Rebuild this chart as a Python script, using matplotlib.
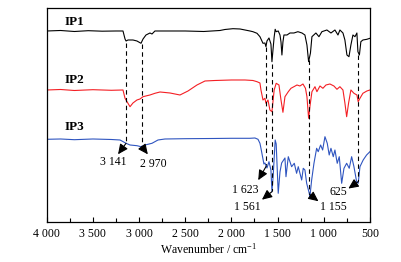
import matplotlib
matplotlib.use("Agg")
import matplotlib.pyplot as plt
import numpy as np

plt.rcParams['font.family'] = ['Liberation Serif', 'DejaVu Serif']
plt.rcParams['mathtext.fontset'] = 'custom'
plt.rcParams['mathtext.rm'] = 'Liberation Serif'
plt.rcParams['mathtext.it'] = 'Liberation Serif:italic'

# ---- data (wavenumber cm-1, transmittance a.u., offset stacked) ----
ip1_wn = [4000, 3850, 3700, 3550, 3400, 3250, 3174, 3152, 3141, 3120, 3066, 3023, 2979, 2957, 2925,
          2882, 2860, 2828, 2700, 2500, 2300, 2124, 2070, 1983, 1907, 1853, 1799, 1767, 1723, 1691,
          1658, 1637, 1626, 1615, 1593, 1572, 1561, 1547, 1537, 1526, 1515, 1493, 1474, 1463, 1453,
          1442, 1431, 1398, 1366, 1323, 1280, 1236, 1204, 1182, 1164, 1144, 1128, 1085, 1052, 1020,
          966, 922, 879, 846, 825, 792, 771, 749, 727, 706, 684, 662, 641, 630, 614, 598, 576, 533, 500]
ip1_t = [191, 191.5, 190.5, 191.3, 190.8, 191, 191, 183, 181, 182, 182, 181, 178.7, 183, 187,
         189, 188, 191, 191, 191, 190.5, 191.5, 192.5, 193.3, 193, 192, 191, 190.3, 188.7, 185.3,
         178.7, 179, 175.3, 181, 184, 178, 160.3, 175, 185, 192.7, 190.3, 191, 187, 180, 167,
         180, 187, 187, 189, 189, 190.3, 189, 187, 177, 160.3, 169, 185.3, 189, 185.3, 190.3,
         192, 189, 192, 187, 192, 189, 182, 167, 165.3, 177, 187, 185.3, 189, 170.3, 167, 180.3, 182, 182.7, 183.7]

ip2_wn = [4000, 3850, 3700, 3500, 3300, 3174, 3152, 3098, 3066, 3023, 2990, 2957, 2914, 2882, 2828,
          2773, 2665, 2557, 2470, 2373, 2286, 2178, 2000, 1853, 1767, 1723, 1691, 1680, 1658, 1637,
          1626, 1604, 1583, 1561, 1537, 1515, 1485, 1463, 1442, 1420, 1384, 1355, 1323, 1290, 1258,
          1225, 1198, 1182, 1164, 1150, 1128, 1095, 1074, 1041, 1009, 976, 933, 890, 857, 825,
          792, 771, 752, 731, 706, 673, 641, 627, 608, 576, 533, 500]
ip2_t = [132, 132.5, 131.5, 132.3, 131.7, 132, 123.7, 115.3, 119, 122, 123, 125.3, 126.3, 127, 128.7,
         130, 129, 127, 131, 137, 141, 141.5, 142, 142, 141.5, 140.3, 139, 132, 122, 123.7,
         118.7, 122, 112, 110.3, 132, 138.7, 137, 122, 109.7, 125.3, 130.3, 133.7, 135.3, 137, 136,
         138, 133.7, 125.3, 103.7, 115.3, 130.3, 135.3, 130.3, 136, 133.7, 137, 138, 136, 132.7, 135.3,
         132, 119, 105.3, 119, 132, 128.7, 127, 120.3, 123.7, 128.7, 131, 132]

ip3_wn = [4000, 3850, 3700, 3500, 3300, 3206, 3141, 3098, 3023, 2979, 2935, 2860, 2795, 2719, 2500,
          2200, 2000, 1800, 1745, 1712, 1691, 1680, 1648, 1637, 1615, 1593, 1572, 1561, 1547, 1526,
          1515, 1493, 1474, 1456, 1420, 1409, 1384, 1348, 1319, 1294, 1276, 1239, 1222, 1204, 1185,
          1157, 1150, 1131, 1106, 1077, 1060, 1034, 1012, 987, 962, 941, 922, 897, 879, 854,
          832, 806, 781, 752, 724, 698, 673, 644, 627, 608, 573, 536, 500]
ip3_t = [82.7, 83, 82.3, 83, 82.5, 82, 78.7, 77, 76.3, 75.3, 77, 78.7, 82, 83, 83.3,
         83.5, 83.7, 83.7, 84, 82.7, 78.7, 73.7, 58, 59, 54, 60.3, 52, 30.3, 47, 82,
         78, 28.7, 50, 59, 64, 45.3, 65.3, 55.3, 58.7, 48.7, 55.3, 42, 53.7, 52, 38.7,
         28.7, 25.3, 42, 58.7, 73.7, 70.3, 77, 72, 85.3, 78.7, 67, 73.7, 65.3, 72, 58.7,
         65.3, 38.7, 53.7, 58.7, 53.7, 65.3, 55.3, 40.3, 38.7, 55.3, 62, 67, 70.3]

series_names = ['IP1', 'IP2', 'IP3']
series_colors = ['#000000', '#f41f24', '#2f55c0']
peaks = [3141, 2970, 1623, 1561, 1155, 625]
peak_labels = ['3 141', '2 970', '1 623', '1 561', '1 155', '625']
xticks = [4000, 3500, 3000, 2500, 2000, 1500, 1000, 500]
xtick_labels = ['4 000', '3 500', '3 000', '2 500', '2 000', '1 500', '1 000', '500']

# ---- figure ----
fig = plt.figure(figsize=(4.01, 2.62), dpi=100)
ax = fig.add_axes([0.1165, 0.1527, 0.806, 0.8168])

wns = [ip1_wn, ip2_wn, ip3_wn]
ts = [ip1_t, ip2_t, ip3_t]
for wn, t, c in zip(wns, ts, series_colors):
    ax.plot(wn, t, color=c, lw=0.8)

ax.set_xlim(4000, 500)
ax.set_ylim(0, 214)
ax.set_yticks([])
ax.set_xticks(xticks)
ax.set_xticklabels(xtick_labels, fontsize=8.5)
ax.set_xticks(np.arange(3750, 500, -500), minor=True)
ax.tick_params(axis='x', which='major', direction='in', length=3.5, width=0.8, pad=4)
ax.tick_params(axis='x', which='minor', direction='in', length=3, width=0.8)
for s in ax.spines.values():
    s.set_linewidth(0.9)
ax.set_xlabel('Wavenumber / cm$^{-1}$', fontsize=8.5, labelpad=2)

# series labels
label_y = [200.3, 142, 95]
for name, y in zip(series_names, label_y):
    ax.text(3694, y, name, fontsize=9.5, fontweight='bold', ha='center', va='center')

# dashed guide lines from IP1 down to IP3
tops = [np.interp(p, ip1_wn[::-1], ip1_t[::-1]) for p in peaks]
bots = [np.interp(p, ip3_wn[::-1], ip3_t[::-1]) for p in peaks]
for p, top, bot in zip(peaks, tops, bots):
    ax.plot([p, p], [top - 2, bot + 1], color='black', lw=0.8, ls=(0, (4, 3)))

# arrows and labels (offsets in pixels)
arrow_off = [(-8, -11), (6, -8), (-8, -14), (-10, -8), (9, -7), (-10, -7)]
text_off = [(-13, -19), (11, -18), (-21, -24), (-25, -15), (24, -13), (-20, -10)]
for p, bot, lab, ao, to in zip(peaks, bots, peak_labels, arrow_off, text_off):
    ax.annotate('', xy=(p, bot), xytext=ao, textcoords='offset pixels',
                arrowprops=dict(arrowstyle='<|-,head_length=0.6,head_width=0.28',
                                color='black', lw=0.8, shrinkA=0, shrinkB=0))
    ax.annotate(lab, xy=(p, bot), xytext=to, textcoords='offset pixels',
                fontsize=8.5, ha='center', va='center')

fig.savefig('out.png', dpi=100)
